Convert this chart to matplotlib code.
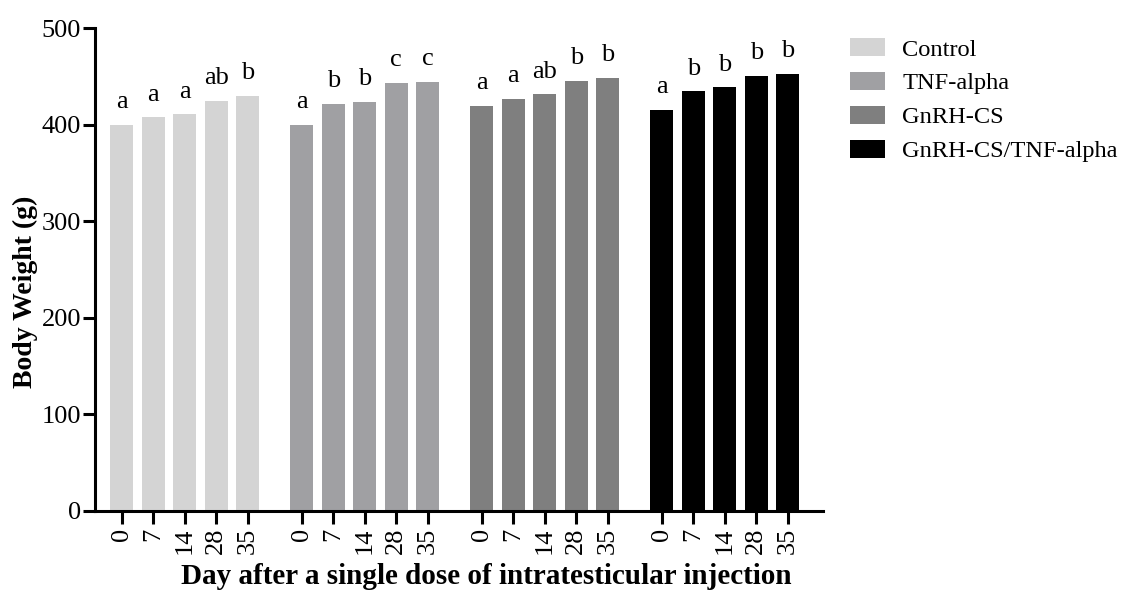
import matplotlib
matplotlib.use("Agg")
import matplotlib.pyplot as plt
import numpy as np

# data
days = ["0", "7", "14", "28", "35"]
groups = ["Control", "TNF-alpha", "GnRH-CS", "GnRH-CS/TNF-alpha"]
control = [400, 408, 411, 425, 430]
tnf = [400, 422, 424, 444, 445]
gnrh = [420, 427, 432, 446, 449]
combo = [416, 435, 439, 451, 453]
letters_control = ["a", "a", "a", "ab", "b"]
letters_tnf = ["a", "b", "b", "c", "c"]
letters_gnrh = ["a", "a", "ab", "b", "b"]
letters_combo = ["a", "b", "b", "b", "b"]

values = [control, tnf, gnrh, combo]
letters = [letters_control, letters_tnf, letters_gnrh, letters_combo]
colors = ["#d4d4d4", "#a0a0a3", "#7f7f7f", "#000000"]

plt.rcParams["font.family"] = ["Liberation Serif", "DejaVu Serif"]

fig = plt.figure(figsize=(11.22, 5.9), dpi=100)
ax = fig.add_axes([0.0847, 0.1339, 0.6488, 0.8178])

group_step = 5.714
width = 0.73
tick_pos = []
tick_lab = []
for g in range(len(groups)):
    x = g * group_step + np.arange(len(days))
    ax.bar(x, values[g], width=width, color=colors[g], label=groups[g])
    for xi, v, s in zip(x, values[g], letters[g]):
        ax.text(xi, v + 12, s, ha="center", va="bottom", fontsize=19)
    tick_pos.extend(x)
    tick_lab.extend(days)

ax.set_xticks(tick_pos)
ax.set_xticklabels(tick_lab, rotation=90, fontsize=19)
ax.set_xlim(-0.85, 3 * group_step + 4 + 1.12)
ax.set_ylim(0, 500)
ax.set_yticks([0, 100, 200, 300, 400, 500])
ax.tick_params(axis="y", labelsize=19, width=2.2, length=9, pad=1)
ax.tick_params(axis="x", width=2.2, length=9, pad=3)

for side in ["top", "right"]:
    ax.spines[side].set_visible(False)
for side in ["left", "bottom"]:
    ax.spines[side].set_linewidth(2.2)

ax.set_ylabel("Body Weight (g)", fontsize=20, fontweight="bold")
ax.yaxis.set_label_coords(-0.079, 0.454)
ax.set_xlabel("Day after a single dose of intratesticular injection",
              fontsize=21, fontweight="bold")
ax.xaxis.set_label_coords(0.538, -0.108)

fig.legend(loc="upper left", bbox_to_anchor=(0.749, 0.952), frameon=False,
           fontsize=17.6, handlelength=1.43, handleheight=0.74,
           handletextpad=0.7, labelspacing=0.47, borderaxespad=0)

fig.savefig("out.png", dpi=100)
